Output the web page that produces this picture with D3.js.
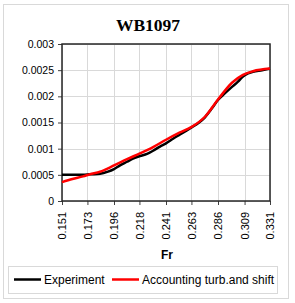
<!DOCTYPE html>
<html><head><meta charset="utf-8">
<script src="https://cdn.jsdelivr.net/npm/d3@7"></script>
<style>body{margin:0;background:#fff}svg{display:block}</style>
</head><body>
<script>
const title = "WB1097";
const xLabel = "Fr";
const xTicks = [0.151, 0.173, 0.196, 0.218, 0.241, 0.263, 0.286, 0.309, 0.331];
const xTickLabels = ["0.151","0.173","0.196","0.218","0.241","0.263","0.286","0.309","0.331"];
const yTicks = [0, 0.0005, 0.001, 0.0015, 0.002, 0.0025, 0.003];
const yTickLabels = ["0","0.0005","0.001","0.0015","0.002","0.0025","0.003"];
const expFr = [0.151,0.1692,0.1752,0.1839,0.1908,0.196,0.2012,0.2073,0.2124,0.2185,0.2246,0.2298,0.2358,0.241,0.2471,0.2531,0.2583,0.2635,0.2696,0.2747,0.2808,0.286,0.2921,0.2981,0.3033,0.3076,0.312,0.3163,0.3241,0.331];
const expVal = [0.0005,0.0005,0.00051,0.00052,0.00056,0.00061,0.00068,0.00075,0.00081,0.00086,0.0009,0.00096,0.00104,0.0011,0.00119,0.00127,0.00134,0.00141,0.0015,0.0016,0.00177,0.00193,0.00206,0.00218,0.00228,0.00238,0.00244,0.00247,0.0025,0.00253];
const calcFr = [0.151,0.16,0.1692,0.1752,0.1839,0.196,0.2073,0.2185,0.2298,0.241,0.2531,0.2635,0.2747,0.286,0.2981,0.3076,0.3163,0.331];
const calcVal = [0.00036,0.00042,0.00047,0.00051,0.00056,0.00068,0.0008,0.00091,0.00103,0.00117,0.00131,0.00142,0.00161,0.00194,0.00226,0.00241,0.00248,0.00253];
const seriesNames = ["Experiment","Accounting turb.and shift"];
const seriesColors = ["#000000","#ff0000"];

const W = 295, H = 303;
const svg = d3.select("body").append("svg").attr("width", W).attr("height", H);
svg.append("rect").attr("x",3.5).attr("y",4.5).attr("width",285).attr("height",294)
  .attr("fill","#fff").attr("stroke","#d9d9d9").attr("stroke-width",1);

const L = 62, R = 270, T = 44, B = 201;
const x = d3.scaleLinear().domain([xTicks[0], xTicks[xTicks.length-1]]).range([L, R]);
const y = d3.scaleLinear().domain([0, 0.003]).range([B, T]);

// gridlines
svg.append("g").selectAll("line.h").data(yTicks).join("line")
  .attr("x1",L).attr("x2",R).attr("y1",d=>Math.round(y(d))+0.5).attr("y2",d=>Math.round(y(d))+0.5)
  .attr("stroke","#d9d9d9").attr("stroke-width",1);
svg.append("g").selectAll("line.v").data(xTicks).join("line")
  .attr("y1",T).attr("y2",B).attr("x1",d=>Math.round(x(d))+0.5).attr("x2",d=>Math.round(x(d))+0.5)
  .attr("stroke","#d9d9d9").attr("stroke-width",1);

// axes
const xAxis = d3.axisBottom(x).tickValues(xTicks).tickFormat((d,i)=>xTickLabels[i]).tickSize(4).tickPadding(3);
const gx = svg.append("g").attr("transform",`translate(0,${B})`).call(xAxis);
gx.select(".domain").remove();
gx.selectAll(".tick line").attr("stroke","#404040");
gx.selectAll(".tick text")
  .attr("font-family","Liberation Sans, Arial, sans-serif").attr("font-size","11px").attr("fill","#000")
  .attr("transform","rotate(-90)").attr("text-anchor","end").attr("dy","0.35em").attr("x",-11).attr("y",0);

const yAxis = d3.axisLeft(y).tickValues(yTicks).tickFormat((d,i)=>yTickLabels[i]).tickSize(4).tickPadding(4);
const gy = svg.append("g").attr("transform",`translate(${L},0)`).call(yAxis);
gy.select(".domain").remove();
gy.selectAll(".tick line").attr("stroke","#404040");
gy.selectAll(".tick text")
  .attr("font-family","Liberation Sans, Arial, sans-serif").attr("font-size","10.5px").attr("fill","#000");

// plot border
svg.append("rect").attr("x",L).attr("y",T).attr("width",R-L).attr("height",B-T)
  .attr("fill","none").attr("stroke","#262626").attr("stroke-width",1.5);

// lines
const line = d3.line().x(d=>x(d[0])).y(d=>y(d[1])).curve(d3.curveMonotoneX);
svg.append("path").datum(expFr.map((f,i)=>[f,expVal[i]])).attr("d",line)
  .attr("fill","none").attr("stroke",seriesColors[0]).attr("stroke-width",2.5);
svg.append("path").datum(calcFr.map((f,i)=>[f,calcVal[i]])).attr("d",line)
  .attr("fill","none").attr("stroke",seriesColors[1]).attr("stroke-width",2.5);

// title
svg.append("text").attr("x",148).attr("y",30.5).attr("text-anchor","middle")
  .attr("font-family","Liberation Serif, Times New Roman, serif").attr("font-weight","bold")
  .attr("font-size","17.5px").text(title);

// x label
svg.append("text").attr("x",167).attr("y",259).attr("text-anchor","middle")
  .attr("font-family","Liberation Sans, Arial, sans-serif").attr("font-weight","bold")
  .attr("font-size","12px").text(xLabel);

// legend
svg.append("rect").attr("x",8.5).attr("y",266.5).attr("width",269).attr("height",27)
  .attr("fill","#fff").attr("stroke","#d9d9d9").attr("stroke-width",1);
const legX = [14, 112];
seriesNames.forEach((n,i)=>{
  svg.append("line").attr("x1",legX[i]).attr("x2",legX[i]+27).attr("y1",279.5).attr("y2",279.5)
    .attr("stroke",seriesColors[i]).attr("stroke-width",2.5);
  svg.append("text").attr("x",legX[i]+30).attr("y",284)
    .attr("font-family","Liberation Sans, Arial, sans-serif").attr("font-size","12px").text(n);
});
</script>
</body></html>
